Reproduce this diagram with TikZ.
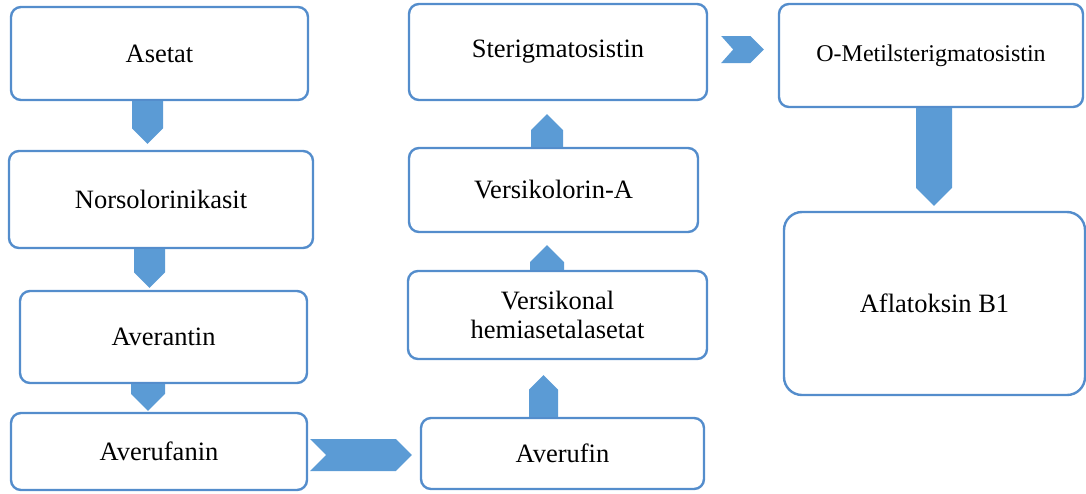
\documentclass[tikz,border=0pt]{standalone}
\usepackage{fontspec}
\setmainfont{Liberation Serif}
\usetikzlibrary{calc}
\definecolor{flowblue}{RGB}{91,155,213}
\definecolor{edgeblue}{RGB}{84,141,204}
\begin{document}
\begin{tikzpicture}[x=1pt,y=-1pt,box/.style={draw=edgeblue,line width=2.4pt,rounded corners=10pt,fill=white,align=center,inner sep=0pt,font=\fontsize{26.5}{29}\selectfont},
flow/.style 2 args={to path={let \p1=(\tikztostart),\p2=(\tikztotarget),\n1={atan2(\y2-\y1,\x2-\x1)} in ($(\p1)+({\n1+90}:#1)$) -- ($(\p2)+({\n1+180}:#1)+({\n1+90}:#1)$) -- (\p2) -- ($(\p2)+({\n1+180}:#1)+({\n1-90}:#1)$) -- ($(\p1)+({\n1-90}:#1)$) -- ($(\p1)+(\n1:#2)$) -- cycle}}]
\useasboundingbox (0,0) rectangle (1086,493);
\node[box,minimum width=297pt,minimum height=93pt](asetat) at (159.5,53.5){Asetat};
\node[box,minimum width=304pt,minimum height=97pt](norso) at (161,199.5){Norsolorinikasit};
\node[box,minimum width=287pt,minimum height=92pt](averantin) at (163.5,337){Averantin};
\node[box,minimum width=296pt,minimum height=77pt](averufanin) at (159,451.5){Averufanin};
\node[box,minimum width=283pt,minimum height=71pt](averufin) at (562.5,453.5){Averufin};
\node[box,minimum width=299pt,minimum height=88pt](versikonal) at (557.5,315){Versikonal\\hemiasetalasetat};
\node[box,minimum width=289pt,minimum height=84pt](versikolorin) at (553.5,190){Versikolorin-A};
\node[box,minimum width=298pt,minimum height=96pt](sterig) at (558,52){Sterigmatosistin};
\node[box,minimum width=304pt,minimum height=103pt,font=\fontsize{24}{27}\selectfont](ometil) at (931,55.5){O-Metilsterigmatosistin};
\node[box,minimum width=301pt,minimum height=183pt,rounded corners=18pt](aflatoksin) at (934.5,303.5){Aflatoksin B1};
\fill[flowblue]([xshift=-12pt]asetat.south) to[flow={15.5pt}{0pt}] ([xshift=-13.5pt,yshift=6pt]norso.north);
\fill[flowblue]([xshift=-11.5pt]norso.south) to[flow={15.5pt}{0pt}] ([xshift=-14pt,yshift=2pt]averantin.north);
\fill[flowblue]([xshift=-15.5pt]averantin.south) to[flow={17pt}{0pt}] ([xshift=-11pt,yshift=1pt]averufanin.north);
\fill[flowblue]([xshift=2pt,yshift=-3.5pt]averufanin.east) to[flow={16pt}{16pt}] ([xshift=-8pt,yshift=-1.5pt]averufin.west);
\fill[flowblue]([xshift=-19pt]averufin.north) to[flow={14.5pt}{0pt}] ([xshift=-14pt,yshift=-15pt]versikonal.south);
\fill[flowblue]([xshift=-10.5pt]versikonal.north) to[flow={17pt}{0pt}] ([xshift=-6.5pt,yshift=-12pt]versikolorin.south);
\fill[flowblue]([xshift=-6.5pt]versikolorin.north) to[flow={16pt}{0pt}] ([xshift=-11pt,yshift=-13pt]sterig.south);
\fill[flowblue]([xshift=13pt,yshift=2.5pt]sterig.east) to[flow={13.5pt}{12pt}] ([xshift=-14pt,yshift=6pt]ometil.west);
\fill[flowblue]([xshift=3pt]ometil.south) to[flow={18pt}{0pt}] ([xshift=-0.5pt,yshift=5pt]aflatoksin.north);
\end{tikzpicture}
\end{document}
